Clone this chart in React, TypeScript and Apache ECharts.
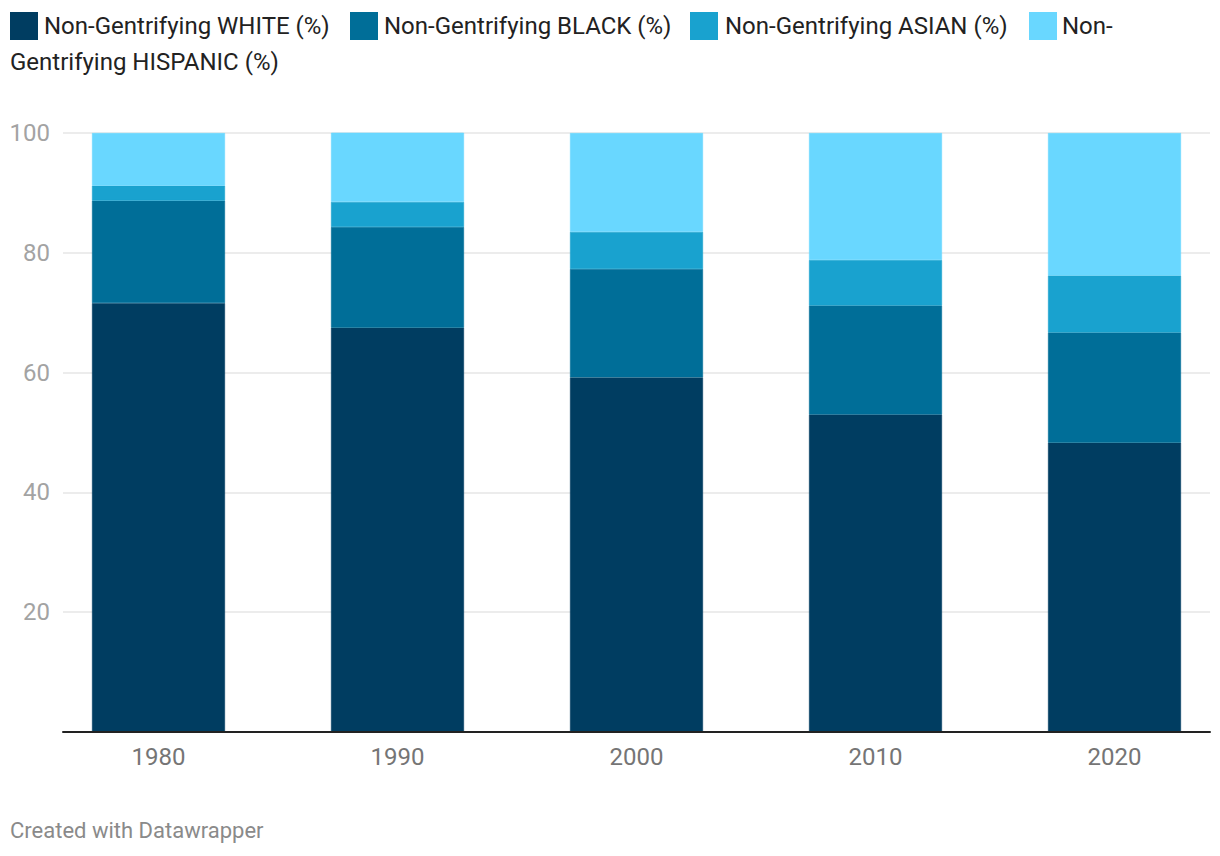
import React, { useEffect, useRef } from "react";
import * as echarts from "echarts";

const years = ["1980", "1990", "2000", "2010", "2020"];
const seriesNames = [
  "Non-Gentrifying WHITE (%)",
  "Non-Gentrifying BLACK (%)",
  "Non-Gentrifying ASIAN (%)",
  "Non-Gentrifying HISPANIC (%)",
];
const white = [71.6, 67.5, 59.2, 53.0, 48.3];
const black = [17.1, 16.8, 18.1, 18.2, 18.4];
const asian = [2.5, 4.2, 6.2, 7.6, 9.5];
const hispanic = [8.8, 11.6, 16.5, 21.2, 23.8];
const colors = ["#003d61", "#006e98", "#19a2cf", "#69d7ff"];
const yTicks = [0, 20, 40, 60, 80, 100];

const FONT = "Roboto, 'Noto Sans', sans-serif";

export default function App() {
  const ref = useRef<HTMLDivElement>(null);
  useEffect(() => {
    if (!ref.current) return;
    const chart = echarts.init(ref.current, null, { renderer: "svg", width: 1220, height: 856 });
    const values = [white, black, asian, hispanic];
    const legendText = { fontFamily: FONT, fontSize: 24, fill: "#222", verticalAlign: "middle" };
    chart.setOption({
      animation: false,
      backgroundColor: "#ffffff",
      grid: [
        { left: 63, width: 1147, top: 133, height: 599, outerBoundsMode: "none", containLabel: false },
        { left: 39, width: 1195, top: 133, height: 599, outerBoundsMode: "none", containLabel: false },
      ],
      xAxis: [
        {
          gridIndex: 0,
          type: "value",
          min: 0,
          max: 1,
          axisLine: { show: true, lineStyle: { color: "#222", width: 2 } },
          axisTick: { show: false },
          axisLabel: { show: false },
          splitLine: { show: false },
          z: 10,
        },
        {
          gridIndex: 1,
          type: "category",
          data: years,
          axisLine: { show: false },
          axisTick: { show: false },
          axisLabel: {
            color: "#757575",
            fontSize: 24,
            fontFamily: FONT,
            margin: 13,
          },
        },
      ],
      yAxis: [
        {
          gridIndex: 0,
          type: "value",
          min: yTicks[0],
          max: yTicks[yTicks.length - 1],
          interval: 20,
          axisLine: { show: false },
          axisTick: { show: false },
          axisLabel: {
            color: "#a3a3a3",
            fontSize: 24,
            fontFamily: FONT,
            margin: 13,
            formatter: (v: number) => (v === 0 ? "" : String(v)),
          },
          splitLine: { lineStyle: { color: "#e6e6e6", width: 1.5 } },
        },
        {
          gridIndex: 1,
          type: "value",
          min: yTicks[0],
          max: yTicks[yTicks.length - 1],
          show: false,
          splitLine: { show: false },
        },
      ],
      series: seriesNames.map((name, i) => ({
        name,
        type: "bar",
        stack: "total",
        xAxisIndex: 1,
        yAxisIndex: 1,
        barWidth: 133,
        data: values[i],
        itemStyle: { color: colors[i], borderColor: colors[i], borderWidth: 0.6 },
        z: 2,
      })),
      graphic: [
        { type: "rect", x: 10, y: 12, shape: { width: 28, height: 28 }, style: { fill: colors[0] } },
        { type: "text", x: 44, y: 26, style: { ...legendText, text: seriesNames[0] } },
        { type: "rect", x: 350, y: 12, shape: { width: 28, height: 28 }, style: { fill: colors[1] } },
        { type: "text", x: 384, y: 26, style: { ...legendText, text: seriesNames[1] } },
        { type: "rect", x: 690, y: 12, shape: { width: 28, height: 28 }, style: { fill: colors[2] } },
        { type: "text", x: 725, y: 26, style: { ...legendText, text: seriesNames[2] } },
        { type: "rect", x: 1029, y: 12, shape: { width: 28, height: 28 }, style: { fill: colors[3] } },
        { type: "text", x: 1062, y: 26, style: { ...legendText, text: "Non-" } },
        { type: "text", x: 10, y: 62, style: { ...legendText, text: "Gentrifying HISPANIC (%)" } },
        {
          type: "text",
          x: 10,
          y: 830,
          style: {
            fontFamily: FONT,
            fontSize: 22,
            fill: "#8a8a8a",
            verticalAlign: "middle",
            text: "Created with Datawrapper",
          },
        },
      ],
    });
    return () => chart.dispose();
  }, []);
  return (
    <div
      ref={ref}
      style={{ position: "fixed", left: 0, top: 0, width: 1220, height: 856, background: "#fff" }}
    />
  );
}
